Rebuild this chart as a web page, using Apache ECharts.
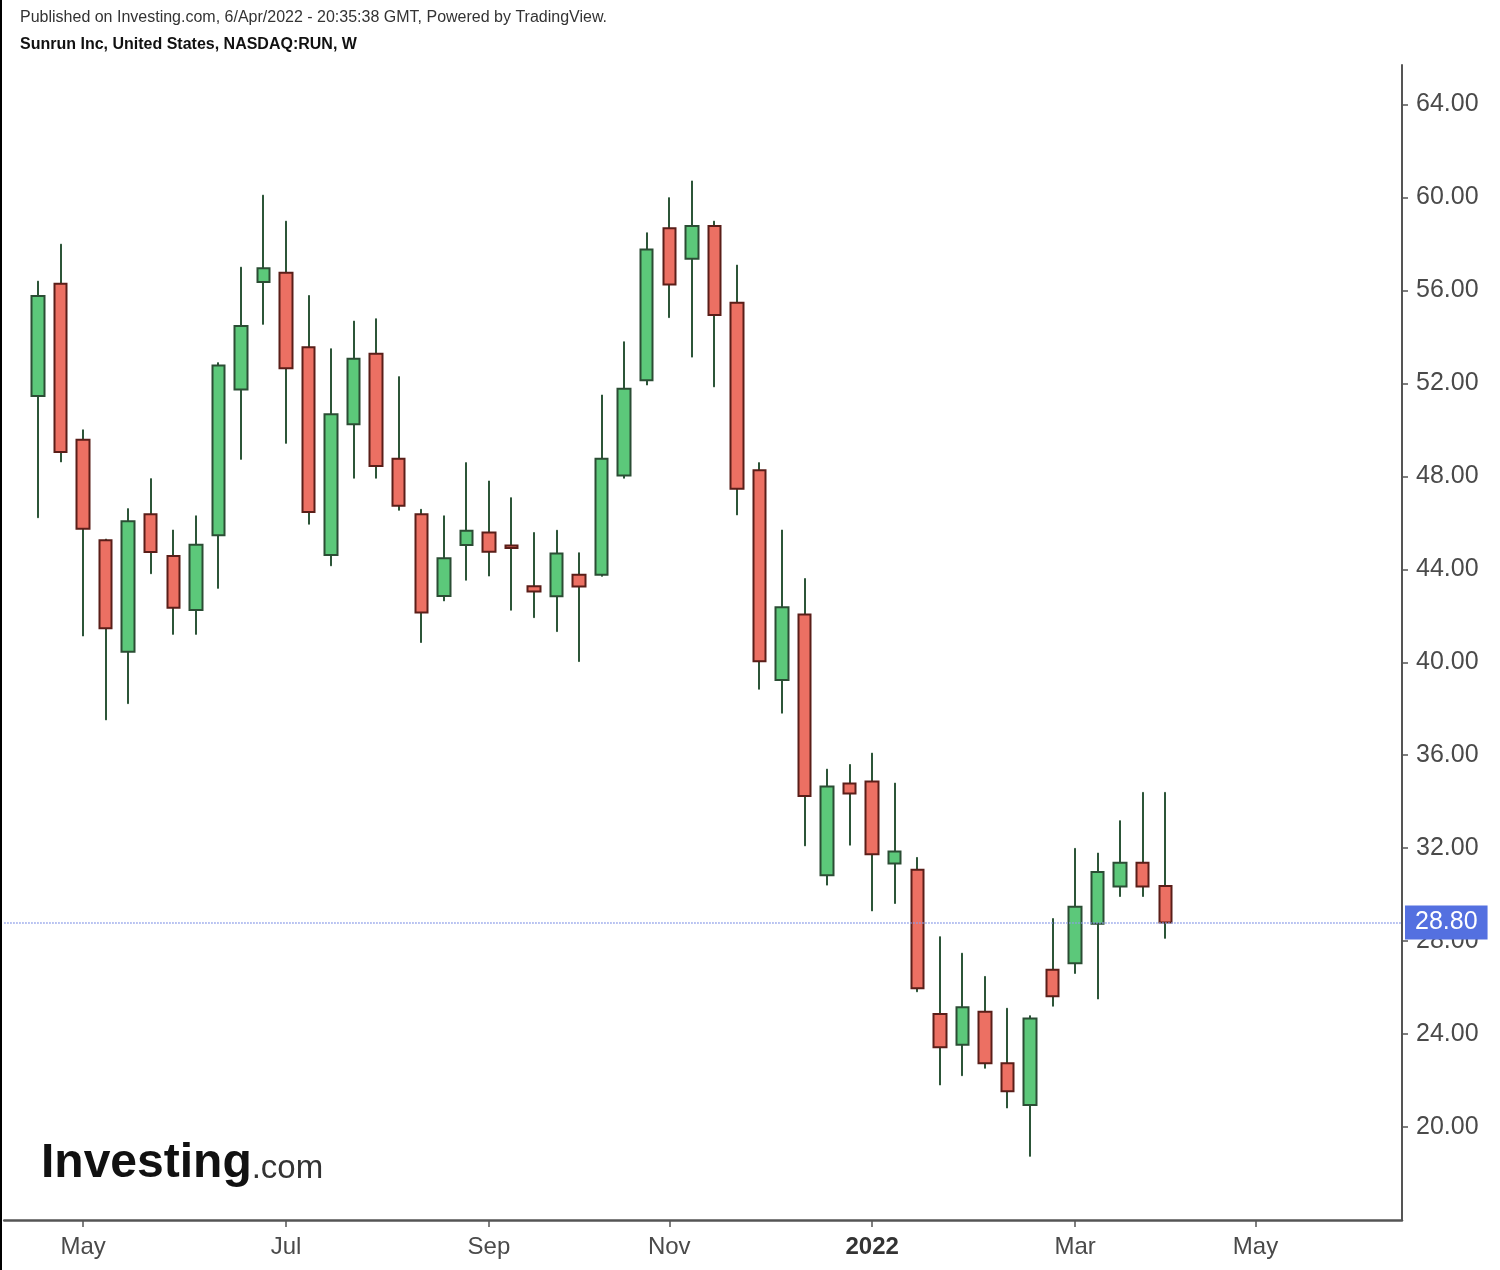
<!DOCTYPE html>
<html>
<head>
<meta charset="utf-8">
<script src="https://cdn.jsdelivr.net/npm/echarts@6/dist/echarts.min.js"></script>
<style>
html,body{margin:0;padding:0;background:#fff;}
#chart{width:1500px;height:1270px;}
</style>
</head>
<body>
<div id="chart"></div>
<script>
// Weekly candles, first week starting Mon 19 Apr 2021
const firstWeek = '2021-04-19';
const padBefore = 1;   // empty weeks shown before data
const padAfter = 10;   // empty weeks shown after data
const opens  = [51.46,56.29,49.57,45.25,40.45,46.37,44.57,42.25,45.46,51.74,56.36,56.76,53.56,44.62,50.24,53.28,48.76,46.37,42.85,45.05,45.58,45.02,43.27,42.84,43.76,43.76,48.04,52.14,58.67,57.36,58.77,55.47,48.26,39.24,42.06,30.84,34.78,34.87,31.34,31.07,24.86,23.54,24.96,22.75,20.95,26.77,27.05,28.75,30.35,31.37,30.37];
const closes = [55.76,49.05,45.75,41.46,46.07,44.74,42.35,45.06,52.77,54.47,56.95,52.65,46.47,50.67,53.06,48.45,46.73,42.14,44.48,45.66,44.75,44.92,43.04,44.68,43.26,48.76,51.77,57.76,56.26,58.77,54.94,47.47,40.04,42.37,34.25,34.65,34.35,31.74,31.86,25.97,23.43,25.16,22.74,21.54,24.67,25.63,29.48,30.97,31.37,30.35,28.80];
const lows   = [46.22,48.62,41.13,37.52,38.22,43.81,41.20,41.20,43.18,48.73,54.54,49.42,45.94,44.15,47.92,47.92,46.54,40.85,42.64,43.53,43.71,42.24,41.92,41.32,40.03,43.70,47.92,51.93,54.83,53.13,51.85,46.34,38.84,37.81,32.10,30.41,32.13,29.30,29.62,25.82,21.81,22.21,22.53,20.82,18.74,25.20,26.61,25.51,29.92,29.92,28.12];
const highs  = [56.40,57.99,50.00,45.30,46.61,47.90,45.69,46.30,52.89,57.00,60.10,58.98,55.78,53.49,54.68,54.78,52.29,46.58,46.30,48.59,47.80,47.08,45.58,45.68,44.71,51.50,53.79,58.48,59.99,60.71,58.98,57.09,48.59,45.69,43.60,35.40,35.60,36.09,34.80,31.60,28.19,27.48,26.48,25.11,24.79,28.97,31.99,31.79,33.18,34.40,34.40];
const lastPrice = 28.80;
const monthNames = ['Jan','Feb','Mar','Apr','May','Jun','Jul','Aug','Sep','Oct','Nov','Dec'];

// categories: one per week
const categories = [];
const start = new Date(firstWeek + 'T00:00:00Z');
for (let k = -padBefore; k < opens.length + padAfter; k++) {
  const d = new Date(start.getTime() + k * 7 * 86400000);
  categories.push(d.toISOString().slice(0, 10));
}
function isLabelWeek(idx) {
  const d = new Date(categories[idx] + 'T00:00:00Z');
  return d.getUTCDate() <= 7 && d.getUTCMonth() % 2 === 0;
}
const bodyData = [], wickData = [];
for (let k = 0; k < categories.length; k++) {
  const i = k - padBefore;
  if (i >= 0 && i < opens.length) {
    const lo = Math.min(opens[i], closes[i]), hi = Math.max(opens[i], closes[i]);
    bodyData.push([opens[i], closes[i], lo, hi]);
    wickData.push([lows[i], highs[i], lows[i], highs[i]]);
  } else {
    bodyData.push('-');
    wickData.push('-');
  }
}

const FONT = '"Liberation Sans", Arial, sans-serif';
const chart = echarts.init(document.getElementById('chart'), null, {renderer: 'canvas'});
chart.setOption({
  animation: false,
  backgroundColor: '#ffffff',
  grid: {left: 4.2, right: 98, top: 65, bottom: 50, containLabel: false},
  graphic: [
    {type: 'line', shape: {x1: 1, y1: 0, x2: 1, y2: 1270}, style: {stroke: '#000', lineWidth: 2}},
    {type: 'text', left: 20, top: 10, style: {text: 'Published on Investing.com, 6/Apr/2022 - 20:35:38 GMT, Powered by TradingView.', font: '16px ' + FONT, fill: '#333'}},
    {type: 'text', left: 20, top: 37, style: {text: 'Sunrun Inc, United States, NASDAQ:RUN, W', font: 'bold 16px ' + FONT, fill: '#111'}},
    {type: 'text', left: 41, top: 1140, style: {
      text: '{a|Investing}{b|.com}',
      rich: {
        a: {fontFamily: FONT, fontWeight: 'bold', fontSize: 48, fill: '#111', color: '#111'},
        b: {fontFamily: FONT, fontSize: 33, fill: '#333', color: '#333', padding: [9, 0, 0, 0]}
      }
    }}
  ],
  xAxis: {
    type: 'category',
    data: categories,
    boundaryGap: true,
    axisLine: {show: true, lineStyle: {color: '#555', width: 2.5}},
    axisTick: {show: true, alignWithLabel: true, length: 7, interval: (idx) => isLabelWeek(idx), lineStyle: {color: '#555', width: 1.5}},
    axisLabel: {
      interval: (idx) => isLabelWeek(idx),
      margin: 15,
      fontFamily: FONT,
      fontSize: 24,
      color: '#4a4a4a',
      formatter: (v) => {
        const d = new Date(v + 'T00:00:00Z');
        const m = d.getUTCMonth();
        if (m === 0) return '{y|' + d.getUTCFullYear() + '}';
        return monthNames[m];
      },
      rich: {y: {fontFamily: FONT, fontSize: 24, fontWeight: 'bold', color: '#333'}}
    },
    splitLine: {show: false}
  },
  yAxis: {
    type: 'value',
    position: 'right',
    min: 16,
    max: 65.7,
    interval: 4,
    scale: true,
    axisLine: {show: true, lineStyle: {color: '#555', width: 2}},
    axisTick: {show: true, length: 6, lineStyle: {color: '#555', width: 1.5}},
    axisLabel: {
      showMinLabel: false,
      showMaxLabel: false,
      margin: 14,
      fontFamily: FONT,
      fontSize: 25,
      color: '#4a4a4a',
      formatter: (v) => v.toFixed(2)
    },
    splitLine: {show: false}
  },
  series: [
    {
      name: 'wick',
      type: 'candlestick',
      barWidth: 1.5,
      data: wickData,
      silent: true,
      itemStyle: {color: '#2c5538', color0: '#2c5538', borderColor: '#2c5538', borderColor0: '#2c5538', borderWidth: 1},
      z: 2
    },
    {
      name: 'RUN',
      type: 'candlestick',
      barWidth: 13,
      data: bodyData,
      itemStyle: {
        color: '#5cc87a',
        color0: '#ec7063',
        borderColor: '#2b4d34',
        borderColor0: '#5a1e19',
        borderWidth: 2
      },
      z: 3,
      markLine: {
        silent: true,
        symbol: ['none', 'none'],
        lineStyle: {color: '#8a9be8', type: 'dotted', width: 1.5},
        label: {
          show: true,
          position: 'end',
          distance: 3,
          formatter: lastPrice.toFixed(2),
          color: '#ffffff',
          fontFamily: FONT,
          fontSize: 25,
          backgroundColor: '#5470e0',
          padding: [5, 10, 4, 10]
        },
        data: [{yAxis: lastPrice}]
      }
    }
  ]
});
</script>
</body>
</html>
